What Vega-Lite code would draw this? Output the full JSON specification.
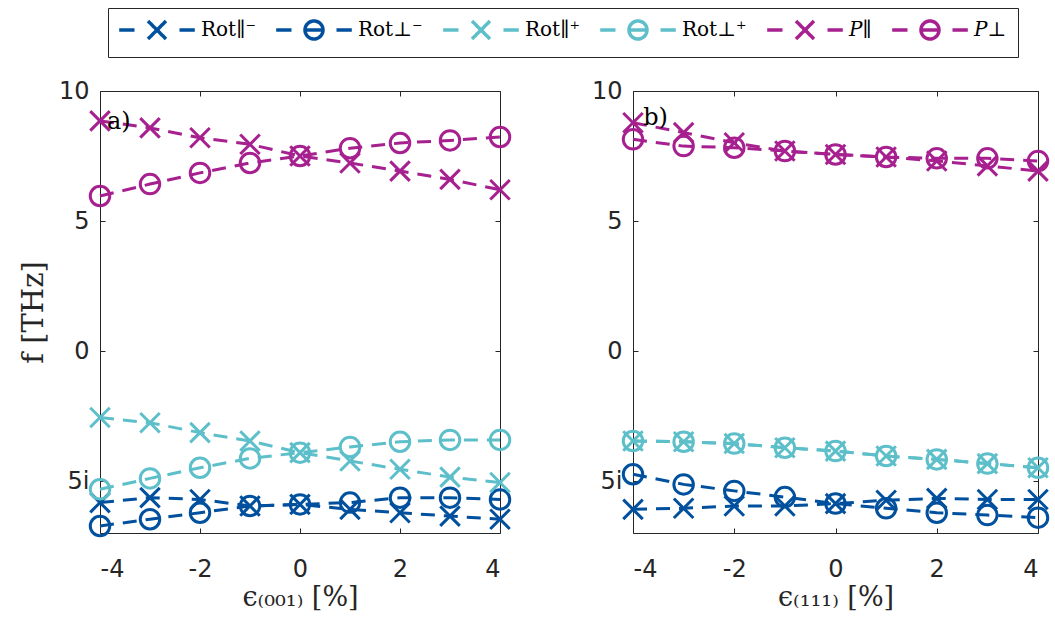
{
  "$schema": "https://vega.github.io/schema/vega-lite/v6.json",
  "background": "white",
  "padding": {"left": 18, "top": 7, "right": 2, "bottom": 4},
  "config": {
    "view": {"stroke": "#262626", "strokeWidth": 1},
    "axis": {
      "grid": false, "domain": false, "tickSize": -5, "tickColor": "#262626", "tickWidth": 1,
      "labelFont": "DejaVu Sans", "labelFontSize": 24, "labelColor": "#262626",
      "titleFont": "DejaVu Serif", "titleFontWeight": "normal", "titleFontSize": 27, "titleColor": "#262626"
    }
  },
  "datasets": {
    "d": [
      {"p":"a","s":"Rot∥⁻","m":"x","x":-4,"y":-5.83},{"p":"a","s":"Rot∥⁻","m":"x","x":-3,"y":-5.64},{"p":"a","s":"Rot∥⁻","m":"x","x":-2,"y":-5.71},{"p":"a","s":"Rot∥⁻","m":"x","x":-1,"y":-5.96},{"p":"a","s":"Rot∥⁻","m":"x","x":0,"y":-5.9},{"p":"a","s":"Rot∥⁻","m":"x","x":1,"y":-6.09},{"p":"a","s":"Rot∥⁻","m":"x","x":2,"y":-6.22},{"p":"a","s":"Rot∥⁻","m":"x","x":3,"y":-6.35},{"p":"a","s":"Rot∥⁻","m":"x","x":4,"y":-6.47},
      {"p":"a","s":"Rot⊥⁻","m":"o","x":-4,"y":-6.73},{"p":"a","s":"Rot⊥⁻","m":"o","x":-3,"y":-6.47},{"p":"a","s":"Rot⊥⁻","m":"o","x":-2,"y":-6.22},{"p":"a","s":"Rot⊥⁻","m":"o","x":-1,"y":-5.96},{"p":"a","s":"Rot⊥⁻","m":"o","x":0,"y":-5.9},{"p":"a","s":"Rot⊥⁻","m":"o","x":1,"y":-5.83},{"p":"a","s":"Rot⊥⁻","m":"o","x":2,"y":-5.64},{"p":"a","s":"Rot⊥⁻","m":"o","x":3,"y":-5.64},{"p":"a","s":"Rot⊥⁻","m":"o","x":4,"y":-5.71},
      {"p":"a","s":"Rot∥⁺","m":"x","x":-4,"y":-2.56},{"p":"a","s":"Rot∥⁺","m":"x","x":-3,"y":-2.76},{"p":"a","s":"Rot∥⁺","m":"x","x":-2,"y":-3.14},{"p":"a","s":"Rot∥⁺","m":"x","x":-1,"y":-3.46},{"p":"a","s":"Rot∥⁺","m":"x","x":0,"y":-3.91},{"p":"a","s":"Rot∥⁺","m":"x","x":1,"y":-4.23},{"p":"a","s":"Rot∥⁺","m":"x","x":2,"y":-4.55},{"p":"a","s":"Rot∥⁺","m":"x","x":3,"y":-4.85},{"p":"a","s":"Rot∥⁺","m":"x","x":4,"y":-5.06},
      {"p":"a","s":"Rot⊥⁺","m":"o","x":-4,"y":-5.32},{"p":"a","s":"Rot⊥⁺","m":"o","x":-3,"y":-4.9},{"p":"a","s":"Rot⊥⁺","m":"o","x":-2,"y":-4.49},{"p":"a","s":"Rot⊥⁺","m":"o","x":-1,"y":-4.13},{"p":"a","s":"Rot⊥⁺","m":"o","x":0,"y":-3.91},{"p":"a","s":"Rot⊥⁺","m":"o","x":1,"y":-3.69},{"p":"a","s":"Rot⊥⁺","m":"o","x":2,"y":-3.49},{"p":"a","s":"Rot⊥⁺","m":"o","x":3,"y":-3.42},{"p":"a","s":"Rot⊥⁺","m":"o","x":4,"y":-3.42},
      {"p":"a","s":"P∥","m":"x","x":-4,"y":8.85},{"p":"a","s":"P∥","m":"x","x":-3,"y":8.58},{"p":"a","s":"P∥","m":"x","x":-2,"y":8.2},{"p":"a","s":"P∥","m":"x","x":-1,"y":7.95},{"p":"a","s":"P∥","m":"x","x":0,"y":7.5},{"p":"a","s":"P∥","m":"x","x":1,"y":7.23},{"p":"a","s":"P∥","m":"x","x":2,"y":6.92},{"p":"a","s":"P∥","m":"x","x":3,"y":6.6},{"p":"a","s":"P∥","m":"x","x":4,"y":6.2},
      {"p":"a","s":"P⊥","m":"o","x":-4,"y":5.96},{"p":"a","s":"P⊥","m":"o","x":-3,"y":6.42},{"p":"a","s":"P⊥","m":"o","x":-2,"y":6.85},{"p":"a","s":"P⊥","m":"o","x":-1,"y":7.23},{"p":"a","s":"P⊥","m":"o","x":0,"y":7.5},{"p":"a","s":"P⊥","m":"o","x":1,"y":7.8},{"p":"a","s":"P⊥","m":"o","x":2,"y":8.0},{"p":"a","s":"P⊥","m":"o","x":3,"y":8.1},{"p":"a","s":"P⊥","m":"o","x":4,"y":8.23},
      {"p":"b","s":"Rot∥⁻","m":"x","x":-4,"y":-6.09},{"p":"b","s":"Rot∥⁻","m":"x","x":-3,"y":-6.05},{"p":"b","s":"Rot∥⁻","m":"x","x":-2,"y":-5.96},{"p":"b","s":"Rot∥⁻","m":"x","x":-1,"y":-5.96},{"p":"b","s":"Rot∥⁻","m":"x","x":0,"y":-5.87},{"p":"b","s":"Rot∥⁻","m":"x","x":1,"y":-5.74},{"p":"b","s":"Rot∥⁻","m":"x","x":2,"y":-5.67},{"p":"b","s":"Rot∥⁻","m":"x","x":3,"y":-5.71},{"p":"b","s":"Rot∥⁻","m":"x","x":4,"y":-5.71},
      {"p":"b","s":"Rot⊥⁻","m":"o","x":-4,"y":-4.74},{"p":"b","s":"Rot⊥⁻","m":"o","x":-3,"y":-5.13},{"p":"b","s":"Rot⊥⁻","m":"o","x":-2,"y":-5.38},{"p":"b","s":"Rot⊥⁻","m":"o","x":-1,"y":-5.62},{"p":"b","s":"Rot⊥⁻","m":"o","x":0,"y":-5.87},{"p":"b","s":"Rot⊥⁻","m":"o","x":1,"y":-6.05},{"p":"b","s":"Rot⊥⁻","m":"o","x":2,"y":-6.22},{"p":"b","s":"Rot⊥⁻","m":"o","x":3,"y":-6.31},{"p":"b","s":"Rot⊥⁻","m":"o","x":4,"y":-6.41},
      {"p":"b","s":"Rot∥⁺","m":"x","x":-4,"y":-3.46},{"p":"b","s":"Rot∥⁺","m":"x","x":-3,"y":-3.49},{"p":"b","s":"Rot∥⁺","m":"x","x":-2,"y":-3.56},{"p":"b","s":"Rot∥⁺","m":"x","x":-1,"y":-3.72},{"p":"b","s":"Rot∥⁺","m":"x","x":0,"y":-3.85},{"p":"b","s":"Rot∥⁺","m":"x","x":1,"y":-4.04},{"p":"b","s":"Rot∥⁺","m":"x","x":2,"y":-4.17},{"p":"b","s":"Rot∥⁺","m":"x","x":3,"y":-4.33},{"p":"b","s":"Rot∥⁺","m":"x","x":4,"y":-4.49},
      {"p":"b","s":"Rot⊥⁺","m":"o","x":-4,"y":-3.46},{"p":"b","s":"Rot⊥⁺","m":"o","x":-3,"y":-3.49},{"p":"b","s":"Rot⊥⁺","m":"o","x":-2,"y":-3.56},{"p":"b","s":"Rot⊥⁺","m":"o","x":-1,"y":-3.72},{"p":"b","s":"Rot⊥⁺","m":"o","x":0,"y":-3.85},{"p":"b","s":"Rot⊥⁺","m":"o","x":1,"y":-4.04},{"p":"b","s":"Rot⊥⁺","m":"o","x":2,"y":-4.17},{"p":"b","s":"Rot⊥⁺","m":"o","x":3,"y":-4.33},{"p":"b","s":"Rot⊥⁺","m":"o","x":4,"y":-4.49},
      {"p":"b","s":"P∥","m":"x","x":-4,"y":8.78},{"p":"b","s":"P∥","m":"x","x":-3,"y":8.4},{"p":"b","s":"P∥","m":"x","x":-2,"y":8.01},{"p":"b","s":"P∥","m":"x","x":-1,"y":7.69},{"p":"b","s":"P∥","m":"x","x":0,"y":7.56},{"p":"b","s":"P∥","m":"x","x":1,"y":7.46},{"p":"b","s":"P∥","m":"x","x":2,"y":7.31},{"p":"b","s":"P∥","m":"x","x":3,"y":7.12},{"p":"b","s":"P∥","m":"x","x":4,"y":6.92},
      {"p":"b","s":"P⊥","m":"o","x":-4,"y":8.14},{"p":"b","s":"P⊥","m":"o","x":-3,"y":7.88},{"p":"b","s":"P⊥","m":"o","x":-2,"y":7.82},{"p":"b","s":"P⊥","m":"o","x":-1,"y":7.69},{"p":"b","s":"P⊥","m":"o","x":0,"y":7.56},{"p":"b","s":"P⊥","m":"o","x":1,"y":7.46},{"p":"b","s":"P⊥","m":"o","x":2,"y":7.41},{"p":"b","s":"P⊥","m":"o","x":3,"y":7.41},{"p":"b","s":"P⊥","m":"o","x":4,"y":7.31}
    ]
  },
  "spacing": 133,
  "bounds": "flush",
  "hconcat": [
    {
      "width": 400, "height": 442,
      "layer": [
        {
          "data": {"name": "d"},
          "transform": [{"filter": "datum.p == 'a'"}],
          "mark": {"type": "line", "strokeDash": [14, 9], "strokeWidth": 3},
          "encoding": {
            "x": {"field": "x", "type": "quantitative", "scale": {"domain": [-4, 4], "nice": false, "zero": false},
              "axis": {"values": [-4, -2, 0, 2, 4], "labelExpr": "'' + datum.value", "labelPadding": 29, "title": "ϵ₍₀₀₁₎  [%]", "titlePadding": 3}},
            "y": {"field": "y", "type": "quantitative", "scale": {"domain": [-7, 10], "nice": false, "zero": false},
              "axis": {"values": [-5, 0, 5, 10], "labelExpr": "datum.value == -5 ? '5i' : '' + datum.value", "labelPadding": 16, "title": "f [THz]", "titleFontSize": 29, "titlePadding": 10}},
            "color": {"field": "s", "type": "nominal",
              "scale": {"domain": ["Rot∥⁻", "Rot⊥⁻", "Rot∥⁺", "Rot⊥⁺", "P∥", "P⊥"], "range": ["#00509e", "#00509e", "#5dbfc9", "#5dbfc9", "#a7208f", "#a7208f"]},
              "legend": {
                "orient": "none", "legendX": 8, "legendY": -83, "direction": "horizontal", "columns": 6, "title": null,
                "strokeColor": "#262626", "fillColor": "white", "padding": 11,
                "labelFont": "DejaVu Serif", "labelFontSize": 20, "labelColor": "black",
                "symbolSize": 324, "symbolStrokeWidth": 3, "symbolOffset": 27, "labelOffset": 33, "columnPadding": 13,
                "encode": {
                  "symbols": {"update": {
                    "shape": {"signal": "indexof(datum.label, '∥') >= 0 ? 'M-4.2,0L-2.5,0M2.5,0L4.2,0M-1,-1L1,1M-1,1L1,-1' : 'M-4.2,0L-2.5,0M2.5,0L4.2,0M-1,0A1,1,0,1,1,1,0A1,1,0,1,1,-1,0ZM-1,0L1,0'"},
                    "fill": {"value": "transparent"}, "strokeWidth": {"value": 3.5}, "strokeDash": {"value": [1, 0]}, "opacity": {"value": 1}
                  }},
                  "labels": {"update": {"fontStyle": {"signal": "indexof(datum.label, 'P') == 0 ? 'italic' : 'normal'"}}}
                }
              }}
          }
        },
        {
          "data": {"name": "d"},
          "transform": [{"filter": "datum.p == 'a'"}],
          "mark": {"type": "point", "filled": false, "strokeWidth": 3, "size": 380, "opacity": 1},
          "encoding": {
            "x": {"field": "x", "type": "quantitative", "axis": null},
            "y": {"field": "y", "type": "quantitative", "axis": null},
            "color": {"field": "s", "type": "nominal"},
            "shape": {"field": "m", "type": "nominal", "scale": {"domain": ["x", "o"], "range": ["M-1,-1L1,1M-1,1L1,-1", "M-1,0A1,1,0,1,1,1,0A1,1,0,1,1,-1,0Z"]}, "legend": null}
          }
        },
        {
          "data": {"values": [{"t": "a)"}]},
          "mark": {"type": "text", "font": "DejaVu Serif", "fontSize": 24, "align": "left", "baseline": "middle", "color": "black"},
          "encoding": {
            "x": {"datum": -3.86, "type": "quantitative", "axis": null},
            "y": {"datum": 8.8, "type": "quantitative", "axis": null},
            "text": {"field": "t"}
          }
        },
        {
          "data": {"name": "d"},
          "transform": [{"filter": "datum.p == 'a'"}],
          "mark": {"type": "point", "opacity": 0},
          "encoding": {
            "x": {"field": "x", "type": "quantitative", "axis": {"orient": "top", "values": [-4, -2, 0, 2, 4], "labels": false, "title": null}},
            "y": {"field": "y", "type": "quantitative", "axis": {"orient": "right", "values": [-5, 0, 5, 10], "labels": false, "title": null}}
          }
        }
      ],
      "resolve": {"axis": {"x": "independent", "y": "independent"}}
    },
    {
      "width": 405, "height": 442,
      "layer": [
        {
          "data": {"name": "d"},
          "transform": [{"filter": "datum.p == 'b'"}],
          "mark": {"type": "line", "strokeDash": [14, 9], "strokeWidth": 3},
          "encoding": {
            "x": {"field": "x", "type": "quantitative", "scale": {"domain": [-4, 4], "nice": false, "zero": false},
              "axis": {"values": [-4, -2, 0, 2, 4], "labelExpr": "'' + datum.value", "labelPadding": 29, "title": "ϵ₍₁₁₁₎  [%]", "titlePadding": 3}},
            "y": {"field": "y", "type": "quantitative", "scale": {"domain": [-7, 10], "nice": false, "zero": false},
              "axis": {"values": [-5, 0, 5, 10], "labelExpr": "datum.value == -5 ? '5i' : '' + datum.value", "labelPadding": 16, "title": null}},
            "color": {"field": "s", "type": "nominal",
              "scale": {"domain": ["Rot∥⁻", "Rot⊥⁻", "Rot∥⁺", "Rot⊥⁺", "P∥", "P⊥"], "range": ["#00509e", "#00509e", "#5dbfc9", "#5dbfc9", "#a7208f", "#a7208f"]}}
          }
        },
        {
          "data": {"name": "d"},
          "transform": [{"filter": "datum.p == 'b'"}],
          "mark": {"type": "point", "filled": false, "strokeWidth": 3, "size": 380, "opacity": 1},
          "encoding": {
            "x": {"field": "x", "type": "quantitative", "axis": null},
            "y": {"field": "y", "type": "quantitative", "axis": null},
            "color": {"field": "s", "type": "nominal"},
            "shape": {"field": "m", "type": "nominal", "scale": {"domain": ["x", "o"], "range": ["M-1,-1L1,1M-1,1L1,-1", "M-1,0A1,1,0,1,1,1,0A1,1,0,1,1,-1,0Z"]}, "legend": null}
          }
        },
        {
          "data": {"values": [{"t": "b)"}]},
          "mark": {"type": "text", "font": "DejaVu Serif", "fontSize": 24, "align": "left", "baseline": "middle", "color": "black"},
          "encoding": {
            "x": {"datum": -3.8, "type": "quantitative", "axis": null},
            "y": {"datum": 8.95, "type": "quantitative", "axis": null},
            "text": {"field": "t"}
          }
        },
        {
          "data": {"name": "d"},
          "transform": [{"filter": "datum.p == 'b'"}],
          "mark": {"type": "point", "opacity": 0},
          "encoding": {
            "x": {"field": "x", "type": "quantitative", "axis": {"orient": "top", "values": [-4, -2, 0, 2, 4], "labels": false, "title": null}},
            "y": {"field": "y", "type": "quantitative", "axis": {"orient": "right", "values": [-5, 0, 5, 10], "labels": false, "title": null}}
          }
        }
      ],
      "resolve": {"axis": {"x": "independent", "y": "independent"}}
    }
  ]
}
